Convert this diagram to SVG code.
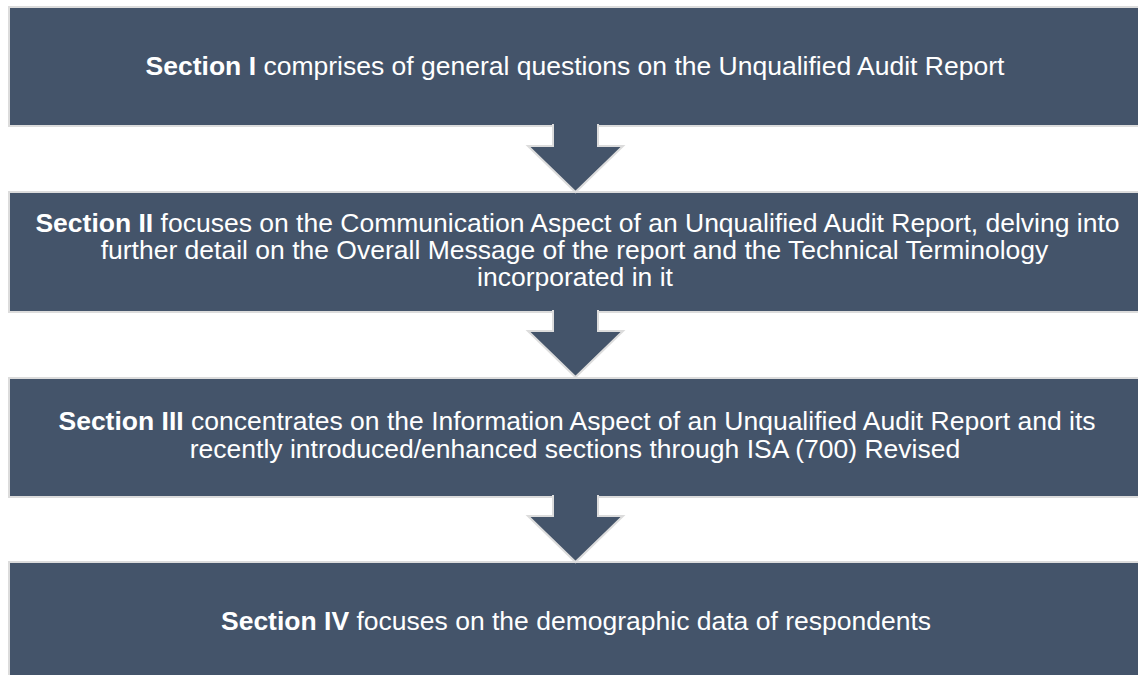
<svg xmlns="http://www.w3.org/2000/svg" width="1138" height="675" viewBox="0 0 1138 675">
  <style>
    .box { fill: #44546a; stroke: #dcdcdc; stroke-width: 2; }
    .arrow { fill: #44546a; stroke: #dcdcdc; stroke-width: 2; stroke-linejoin: miter; }
    .label { font-family: "Liberation Sans", Arial, sans-serif; font-size: 26.5px; fill: #ffffff; text-anchor: middle; }
    .b { font-weight: bold; }
  </style>
  <rect width="1138" height="675" fill="#ffffff"/>

  <g id="section-1">
    <rect class="box" x="9" y="7" width="1140" height="119"/>
    <text class="label" x="575" y="75"><tspan class="b">Section I</tspan> comprises of general questions on the Unqualified Audit Report</text>
  </g>

  <g id="section-2">
    <rect class="box" x="9" y="192" width="1140" height="120"/>
    <text class="label" x="577.5" y="232"><tspan class="b">Section II</tspan> focuses on the Communication Aspect of an Unqualified Audit Report, delving into</text>
    <text class="label" x="574.5" y="259">further detail on the Overall Message of the report and the Technical Terminology</text>
    <text class="label" x="575" y="286">incorporated in it</text>
  </g>

  <g id="section-3">
    <rect class="box" x="9" y="378" width="1140" height="119"/>
    <text class="label" x="577" y="430"><tspan class="b">Section III</tspan> concentrates on the Information Aspect of an Unqualified Audit Report and its</text>
    <text class="label" x="575" y="458">recently introduced/enhanced sections through ISA (700) Revised</text>
  </g>

  <g id="section-4">
    <rect class="box" x="9" y="562" width="1140" height="130"/>
    <text class="label" x="576" y="630"><tspan class="b">Section IV</tspan> focuses on the demographic data of respondents</text>
  </g>

  <!-- down arrows joining consecutive sections; open at the top so they merge into the box above -->
  <g id="connectors">
    <path class="arrow" d="M553,124 L553,146 L528,146 L575.5,192 L623,146 L598,146 L598,124"/>
    <path class="arrow" d="M553,310 L553,331 L528,331 L575.5,377 L623,331 L598,331 L598,310"/>
    <path class="arrow" d="M553,495 L553,516 L528,516 L575.5,562 L623,516 L598,516 L598,495"/>
  </g>
</svg>
